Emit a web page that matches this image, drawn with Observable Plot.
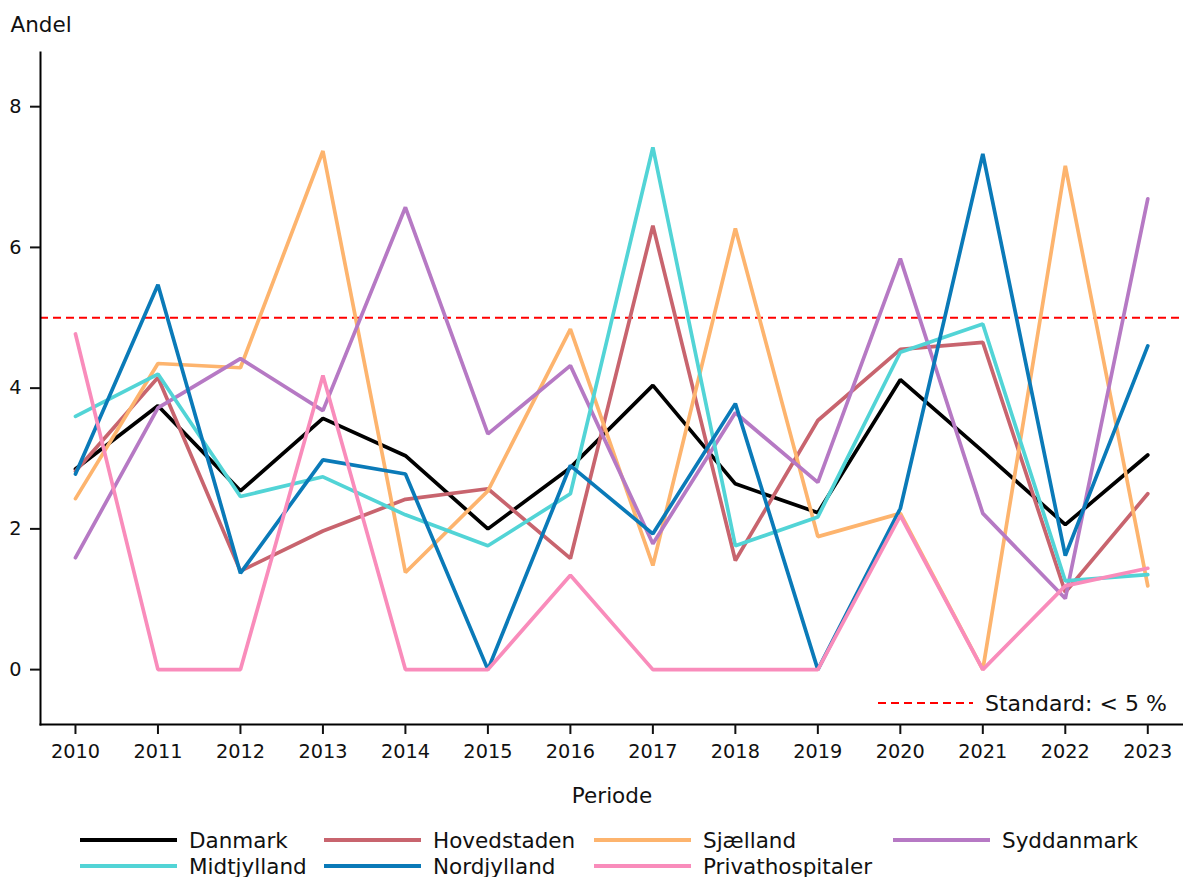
<!DOCTYPE html>
<html>
<head>
<meta charset="utf-8">
<script src="https://cdn.jsdelivr.net/npm/d3@7"></script>
<script src="https://cdn.jsdelivr.net/npm/@observablehq/plot@0.6"></script>
<style>
  body { margin: 0; background: #fff; font-family: "DejaVu Sans", sans-serif; }
  #wrap { position: relative; width: 1183px; height: 877px; overflow: hidden; }
  #legend { position: relative; width: 1183px; height: 62px; }
  .item { position: absolute; height: 26px; display: flex; align-items: center; font-size: 21.5px; color: #111; white-space: nowrap; }
  .item svg { display: block; margin-right: 12px; }
  #std { position: absolute; left: 878px; top: 690px; height: 26px; display: flex; align-items: center; font-size: 22px; color: #111; white-space: nowrap; }
  #std svg { display: block; margin-right: 12px; }
</style>
</head>
<body>
<div id="wrap"></div>
<script>
const years = [2010, 2011, 2012, 2013, 2014, 2015, 2016, 2017, 2018, 2019, 2020, 2021, 2022, 2023];
const seriesNames = ["Danmark", "Hovedstaden", "Sjælland", "Syddanmark", "Midtjylland", "Nordjylland", "Privathospitaler"];
const colors = ["#000000", "#c8646e", "#fdb46e", "#b679c4", "#52d4d6", "#0a7ab8", "#f98cbb"];
const danmark          = [2.85, 3.75, 2.54, 3.57, 3.04, 2.00, 2.87, 4.04, 2.64, 2.23, 4.12, 3.10, 2.06, 3.05];
const hovedstaden      = [2.82, 4.15, 1.40, 1.97, 2.42, 2.57, 1.58, 6.31, 1.55, 3.54, 4.55, 4.65, 1.10, 2.50];
const sjaelland        = [2.43, 4.35, 4.29, 7.37, 1.38, 2.54, 4.84, 1.48, 6.27, 1.89, 2.22, 0.00, 7.16, 1.19];
const syddanmark       = [1.59, 3.72, 4.42, 3.68, 6.57, 3.35, 4.32, 1.79, 3.65, 2.66, 5.84, 2.22, 1.01, 6.69];
const midtjylland      = [3.60, 4.20, 2.46, 2.74, 2.20, 1.76, 2.50, 7.42, 1.76, 2.17, 4.51, 4.91, 1.26, 1.35];
const nordjylland      = [2.78, 5.47, 1.37, 2.98, 2.78, 0.00, 2.90, 1.93, 3.78, 0.00, 2.29, 7.33, 1.62, 4.60];
const privathospitaler = [4.77, 0.00, 0.00, 4.18, 0.00, 0.00, 1.34, 0.00, 0.00, 0.00, 2.19, 0.00, 1.19, 1.44];
const yTicks = [0, 2, 4, 6, 8];
const standard = 5;
const standardLabel = "Standard: < 5 %";

const valuesBySeries = [danmark, hovedstaden, sjaelland, syddanmark, midtjylland, nordjylland, privathospitaler];
const rows = [];
seriesNames.forEach((s, i) => years.forEach((yr, j) => rows.push({series: s, year: yr, value: valuesBySeries[i][j]})));

const chart = Plot.plot({
  width: 1183,
  height: 815,
  marginLeft: 40,
  marginRight: 0,
  marginTop: 52,
  marginBottom: 91,
  style: { fontFamily: "DejaVu Sans", fontSize: "19px", color: "#111", background: "white" },
  x: { domain: [2009.576, 2023.433] },
  y: { domain: [-0.78, 8.77] },
  color: { domain: seriesNames, range: colors },
  marks: [
    Plot.ruleY([standard], { stroke: "#ff0000", strokeWidth: 2, strokeDasharray: "8,5" }),
    Plot.lineY(rows, { x: "year", y: "value", z: "series", stroke: "series", strokeWidth: 3.7, strokeLinejoin: "miter" }),
    Plot.frame({ anchor: "left", stroke: "#000", strokeWidth: 2 }),
    Plot.frame({ anchor: "bottom", stroke: "#000", strokeWidth: 2 }),
    Plot.axisX({ ticks: years, tickFormat: "d", tickSize: 10, tickPadding: 10, strokeWidth: 2, label: null, fontSize: 19.3 }),
    Plot.axisY({ ticks: yTicks, tickSize: 10, tickPadding: 9, strokeWidth: 2, label: null, fontSize: 19.3 }),
    Plot.text(["Periode"], { frameAnchor: "bottom", dy: 78, lineAnchor: "bottom", fontSize: 21.5, fill: "#111" }),
    Plot.text(["Andel"], { frameAnchor: "top-left", dx: -30, dy: -21, lineAnchor: "bottom", textAnchor: "start", fontSize: 21.5, fill: "#111" })
  ]
});

const wrap = document.getElementById("wrap");
wrap.appendChild(chart);

// Standard legend (inside plot area)
const std = document.createElement("div");
std.id = "std";
std.innerHTML = `<svg width="95" height="6"><line x1="0" y1="3" x2="95" y2="3" stroke="#ff0000" stroke-width="2" stroke-dasharray="8,5"/></svg><span>${standardLabel}</span>`;
wrap.appendChild(std);

// Series legend below the chart
const legend = document.createElement("div");
legend.id = "legend";
const lefts = [80, 324, 594, 893];
seriesNames.forEach((s, i) => {
  const row = Math.floor(i / 4), col = i % 4;
  const it = document.createElement("div");
  it.className = "item";
  it.style.left = lefts[col] + "px";
  it.style.top = (12 + row * 26) + "px";
  it.innerHTML = `<svg width="97" height="6"><line x1="0" y1="3" x2="97" y2="3" stroke="${colors[i]}" stroke-width="4"/></svg><span>${s}</span>`;
  legend.appendChild(it);
});
wrap.appendChild(legend);
</script>
</body>
</html>
